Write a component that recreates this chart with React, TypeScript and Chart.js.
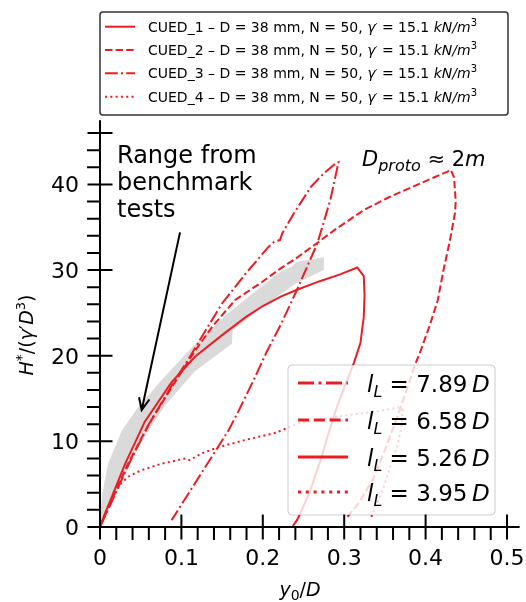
import React, { useEffect, useRef } from 'react';
import { Chart, registerables } from 'chart.js';

Chart.register(...registerables);

// ---------- data ----------
const X_TICKS = [0, 0.1, 0.2, 0.3, 0.4, 0.5];
const X_TICK_LABELS = ['0', '0.1', '0.2', '0.3', '0.4', '0.5'];
const Y_TICKS = [0, 10, 20, 30, 40];
const Y_TICK_LABELS = ['0', '10', '20', '30', '40'];

// CUED_1  l_L = 5.26D (solid)
const cued1X = [0, 0.005, 0.0144, 0.031, 0.055, 0.088, 0.117, 0.15, 0.179, 0.2, 0.222, 0.242, 0.27, 0.295, 0.316, 0.324, 0.325, 0.324, 0.32, 0.312, 0.301, 0.291, 0.281, 0.271, 0.258, 0.248, 0.242, 0.236];
const cued1Y = [0, 1.3, 3.5, 7.4, 12.3, 16.9, 19.9, 22.4, 24.5, 25.8, 26.9, 27.7, 28.7, 29.5, 30.3, 29.3, 27, 24.5, 21.5, 19.2, 16.5, 14, 11, 7.8, 4.2, 2, 0.8, 0];

// CUED_2  l_L = 6.58D (dashed)
const cued2X = [0, 0.016, 0.034, 0.06, 0.09, 0.117, 0.138, 0.166, 0.199, 0.222, 0.24, 0.263, 0.29, 0.324, 0.355, 0.386, 0.41, 0.427, 0.431, 0.435, 0.437, 0.436, 0.43, 0.422, 0.415, 0.405, 0.394, 0.386, 0.375, 0.365, 0.35, 0.335, 0.318, 0.304, 0.302];
const cued2Y = [0, 3.5, 7.3, 12, 16.6, 20.6, 23.4, 26.5, 28.6, 30.2, 31.3, 32.9, 34.8, 37, 38.5, 39.8, 40.8, 41.5, 41.7, 40.8, 38, 36.6, 33.5, 30, 26.5, 23.5, 20.6, 18.7, 15.5, 12.8, 9, 5.5, 2.8, 1.2, 1.0];

// CUED_3  l_L = 7.89D (dash-dot)
const cued3X = [0, 0.017, 0.035, 0.06, 0.088, 0.11, 0.125, 0.15, 0.179, 0.207, 0.214, 0.221, 0.224, 0.238, 0.259, 0.275, 0.29, 0.293, 0.291, 0.283, 0.267, 0.242, 0.222, 0.205, 0.189, 0.17, 0.158, 0.144, 0.12, 0.1, 0.088];
const cued3Y = [0, 3.5, 7.3, 12, 16.5, 19.8, 22.2, 26.1, 29.6, 32.7, 33.3, 33.5, 34.3, 36.6, 39.7, 41.3, 42.5, 42.6, 41.7, 38.2, 33.1, 27.7, 23.6, 20.5, 17.2, 13.5, 11.3, 9.2, 5.6, 2.6, 0.8];

// CUED_4  l_L = 3.95D (dotted)
const cued4X = [0, 0.008, 0.018, 0.025, 0.035, 0.05, 0.076, 0.105, 0.11, 0.125, 0.145, 0.18, 0.216, 0.246, 0.28, 0.308, 0.34, 0.369, 0.372, 0.37, 0.365, 0.358, 0.348, 0.338, 0.332];
const cued4Y = [0, 2, 4, 5, 5.9, 6.6, 7.4, 8.0, 7.8, 8.6, 9.3, 10.2, 11, 12.2, 12.7, 13.1, 13.5, 14.0, 13.6, 11.5, 9.4, 7.5, 4.5, 2.2, 0.9];

// Range from benchmark tests (grey band outline: upper edge then lower edge back)
const bandX = [0, 0.002, 0.01, 0.027, 0.047, 0.076, 0.113, 0.158, 0.2, 0.222, 0.236, 0.24, 0.275, 0.275, 0.24, 0.2, 0.165, 0.163, 0.162, 0.117, 0.08, 0.05, 0.025, 0.01, 0];
const bandY = [0, 3.5, 7.4, 11.3, 14, 17.2, 21, 25, 28.2, 29.8, 30.4, 30.9, 31.5, 30.0, 28.4, 25.7, 23.1, 23.1, 21.4, 18.2, 14.2, 9.8, 5, 1.8, 0];

const ARROW_FROM = { x: 0.0983, y: 34.4 };
const ARROW_TO = { x: 0.0512, y: 13.66 };

const RED = 'rgb(235,28,36)';
const FONT = '"DejaVu Sans"';

const zip = (xs: number[], ys: number[]) => xs.map((x, i) => ({ x, y: ys[i] }));

type Seg = { t: string; size: number; italic?: boolean; dy?: number };

function drawRich(ctx: CanvasRenderingContext2D, segs: Seg[], x: number, y: number, align: 'left' | 'center' | 'right' = 'left') {
  const fontOf = (s: Seg) => `${s.italic ? 'italic ' : ''}${s.size}px ${FONT}`;
  let w = 0;
  for (const s of segs) {
    ctx.font = fontOf(s);
    w += ctx.measureText(s.t).width;
  }
  let cx = align === 'center' ? x - w / 2 : align === 'right' ? x - w : x;
  ctx.textAlign = 'left';
  ctx.textBaseline = 'alphabetic';
  for (const s of segs) {
    ctx.font = fontOf(s);
    ctx.fillText(s.t, cx, y + (s.dy || 0));
    cx += ctx.measureText(s.t).width;
  }
}

function roundRect(ctx: CanvasRenderingContext2D, x: number, y: number, w: number, h: number, r: number) {
  ctx.beginPath();
  ctx.moveTo(x + r, y);
  ctx.lineTo(x + w - r, y);
  ctx.quadraticCurveTo(x + w, y, x + w, y + r);
  ctx.lineTo(x + w, y + h - r);
  ctx.quadraticCurveTo(x + w, y + h, x + w - r, y + h);
  ctx.lineTo(x + r, y + h);
  ctx.quadraticCurveTo(x, y + h, x, y + h - r);
  ctx.lineTo(x, y + r);
  ctx.quadraticCurveTo(x, y, x + r, y);
  ctx.closePath();
}

const STYLES = [
  { dash2: [], dash3: [] },
  { dash2: [7.4, 3.2], dash3: [11, 4.8] },
  { dash2: [12.8, 3.2, 2, 3.2], dash3: [16, 4.5, 3, 4.5] },
  { dash2: [2, 3.3], dash3: [3, 4.8] },
];

const customPlugin = {
  id: 'customDraw',
  afterDatasetsDraw(chart: any) {
    const ctx: CanvasRenderingContext2D = chart.ctx;
    const xs = chart.scales.x;
    const ys = chart.scales.y;
    ctx.save();

    // inner legend (semi transparent over lines)
    const bx = 288, by = 365, bw = 207, bh = 150;
    roundRect(ctx, bx, by, bw, bh, 4);
    ctx.fillStyle = 'rgba(255,255,255,0.8)';
    ctx.fill();
    ctx.strokeStyle = 'rgba(0,0,0,0.2)';
    ctx.lineWidth = 1;
    ctx.stroke();
    const rows = [
      { style: 2, val: '7.89' },
      { style: 1, val: '6.58' },
      { style: 0, val: '5.26' },
      { style: 3, val: '3.95' },
    ];
    const rowY = [383, 420, 457, 492];
    rows.forEach((r, i) => {
      const yy = rowY[i];
      ctx.beginPath();
      ctx.setLineDash(STYLES[r.style].dash3);
      ctx.lineWidth = 3;
      ctx.lineCap = 'butt';
      ctx.strokeStyle = RED;
      ctx.moveTo(298, yy);
      ctx.lineTo(348, yy);
      ctx.stroke();
      ctx.setLineDash([]);
      ctx.fillStyle = '#000';
      drawRich(ctx, [
        { t: 'l', size: 23, italic: true },
        { t: 'L', size: 16, italic: true, dy: 5 },
        { t: ' = ', size: 23 },
        { t: r.val, size: 23 },
        { t: '\u2009', size: 23 },
        { t: 'D', size: 23, italic: true },
      ], 367, yy + 8.5);
    });

    // arrow
    const x0 = xs.getPixelForValue(ARROW_FROM.x), y0 = ys.getPixelForValue(ARROW_FROM.y);
    const x1 = xs.getPixelForValue(ARROW_TO.x), y1 = ys.getPixelForValue(ARROW_TO.y);
    ctx.strokeStyle = '#000';
    ctx.lineWidth = 2;
    ctx.beginPath();
    ctx.moveTo(x0, y0);
    ctx.lineTo(x1, y1);
    const ang = Math.atan2(y0 - y1, x0 - x1);
    const hl = 13, ha = 0.42;
    ctx.moveTo(x1 + hl * Math.cos(ang - ha), y1 + hl * Math.sin(ang - ha));
    ctx.lineTo(x1, y1);
    ctx.lineTo(x1 + hl * Math.cos(ang + ha), y1 + hl * Math.sin(ang + ha));
    ctx.stroke();

    // Range text
    ctx.fillStyle = '#000';
    ctx.font = `24px ${FONT}`;
    ctx.textAlign = 'left';
    ctx.textBaseline = 'alphabetic';
    ctx.fillText('Range from', 117, 163);
    ctx.fillText('benchmark', 117, 190);
    ctx.fillText('tests', 117, 217);

    // D_proto
    drawRich(ctx, [
      { t: 'D', size: 21, italic: true },
      { t: 'proto', size: 16, italic: true, dy: 5 },
      { t: ' \u2248 2', size: 21 },
      { t: 'm', size: 21, italic: true },
    ], 362, 166);

    ctx.restore();
  },
  afterDraw(chart: any) {
    const ctx: CanvasRenderingContext2D = chart.ctx;
    const xs = chart.scales.x;
    const ys = chart.scales.y;
    ctx.save();
    ctx.strokeStyle = '#000';
    ctx.lineWidth = 2;
    ctx.setLineDash([]);
    const ax0 = ys.getPixelForValue(0);
    const ay0 = xs.getPixelForValue(0);
    // axis lines
    ctx.beginPath();
    ctx.moveTo(xs.getPixelForValue(-0.015), ax0);
    ctx.lineTo(xs.getPixelForValue(0.5155), ax0);
    ctx.moveTo(ay0, ys.getPixelForValue(-1.2));
    ctx.lineTo(ay0, ys.getPixelForValue(47.5));
    ctx.stroke();
    // minor ticks
    ctx.beginPath();
    for (let i = 1; i < 25; i++) {
      if (i % 5 === 0) continue;
      const px = xs.getPixelForValue(i * 0.02);
      ctx.moveTo(px, ax0);
      ctx.lineTo(px, ax0 + 13);
    }
    for (let i = 1; i < 23; i++) {
      if (i % 5 === 0) continue;
      const py = ys.getPixelForValue(i * 2);
      ctx.moveTo(ay0, py);
      ctx.lineTo(ay0 - 13, py);
    }
    // major ticks (crossing)
    X_TICKS.forEach((v) => {
      const px = xs.getPixelForValue(v);
      ctx.moveTo(px, ax0 - 12.5);
      ctx.lineTo(px, ax0 + 12.5);
    });
    [...Y_TICKS, 46].forEach((v) => {
      const py = ys.getPixelForValue(v);
      ctx.moveTo(ay0 - 12.5, py);
      ctx.lineTo(ay0 + 12.5, py);
    });
    ctx.stroke();

    // tick labels
    ctx.fillStyle = '#000';
    ctx.font = `22px ${FONT}`;
    ctx.textBaseline = 'alphabetic';
    ctx.textAlign = 'center';
    X_TICKS.forEach((v, i) => {
      ctx.fillText(X_TICK_LABELS[i], xs.getPixelForValue(v), 565);
    });
    ctx.textAlign = 'right';
    Y_TICKS.forEach((v, i) => {
      ctx.fillText(Y_TICK_LABELS[i], 79, ys.getPixelForValue(v) + 8);
    });

    // axis titles
    drawRich(ctx, [
      { t: 'y', size: 19, italic: true },
      { t: '0', size: 14, dy: 4 },
      { t: '/', size: 19 },
      { t: 'D', size: 19, italic: true },
    ], 300, 596, 'center');
    ctx.save();
    ctx.translate(33, 335);
    ctx.rotate(-Math.PI / 2);
    drawRich(ctx, [
      { t: 'H', size: 19, italic: true },
      { t: '*', size: 14, dy: -7 },
      { t: '/(', size: 19 },
      { t: '\u03B3', size: 19, italic: true },
      { t: '\u2032', size: 19 },
      { t: 'D', size: 19, italic: true },
      { t: '3', size: 13, dy: -8 },
      { t: ')', size: 19 },
    ], 0, 0, 'center');
    ctx.restore();

    // top legend
    roundRect(ctx, 100, 12, 408, 103, 3);
    ctx.fillStyle = '#fff';
    ctx.fill();
    ctx.strokeStyle = '#333';
    ctx.lineWidth = 1.5;
    ctx.stroke();
    const names = ['CUED_1', 'CUED_2', 'CUED_3', 'CUED_4'];
    const topRows = [26.7, 50, 73.3, 96.7];
    names.forEach((n, i) => {
      const yy = topRows[i];
      ctx.beginPath();
      ctx.setLineDash(STYLES[i].dash2);
      ctx.lineWidth = 2;
      ctx.strokeStyle = RED;
      ctx.moveTo(105, yy);
      ctx.lineTo(135, yy);
      ctx.stroke();
      ctx.setLineDash([]);
      ctx.fillStyle = '#000';
      drawRich(ctx, [
        { t: `${n} \u2013 D = 38 mm, N = 50, `, size: 14 },
        { t: '\u03B3', size: 14, italic: true },
        { t: '\u2032', size: 9, dy: -2 },
        { t: ' = 15.1 ', size: 14 },
        { t: 'kN/m', size: 14, italic: true },
        { t: '3', size: 10, dy: -6 },
      ], 148, yy + 5);
    });

    ctx.restore();
  },
};

export default function App() {
  const ref = useRef<HTMLCanvasElement | null>(null);
  useEffect(() => {
    if (!ref.current) return;
    const common = { pointRadius: 0, borderColor: RED, borderWidth: 2, fill: false, tension: 0, clip: false as any, borderCapStyle: 'butt' as const };
    const chart = new Chart(ref.current, {
      type: 'line',
      data: {
        datasets: [
          { ...common, label: 'CUED_1', data: zip(cued1X, cued1Y), borderDash: STYLES[0].dash2, order: 1 },
          { ...common, label: 'CUED_2', data: zip(cued2X, cued2Y), borderDash: STYLES[1].dash2, order: 2 },
          { ...common, label: 'CUED_3', data: zip(cued3X, cued3Y), borderDash: STYLES[2].dash2, order: 3 },
          { ...common, label: 'CUED_4', data: zip(cued4X, cued4Y), borderDash: STYLES[3].dash2, order: 4 },
          {
            label: 'Range', data: zip(bandX, bandY), pointRadius: 0, borderWidth: 0, borderColor: 'rgba(0,0,0,0)',
            backgroundColor: '#dadada', fill: 'shape', tension: 0, order: 10,
          } as any,
        ],
      },
      options: {
        responsive: false,
        animation: false,
        events: [],
        layout: { padding: { left: 100, right: 19, top: 133, bottom: 75 } },
        scales: {
          x: { type: 'linear', min: 0, max: 0.5, display: false },
          y: { type: 'linear', min: 0, max: 46, display: false },
        },
        plugins: { legend: { display: false }, tooltip: { enabled: false } },
      },
      plugins: [customPlugin],
    });
    return () => chart.destroy();
  }, []);
  return (
    <div style={{ position: 'absolute', left: 0, top: 0, width: 526, height: 602, background: '#fff' }}>
      <canvas ref={ref} width={526} height={602} style={{ display: 'block' }} />
    </div>
  );
}
